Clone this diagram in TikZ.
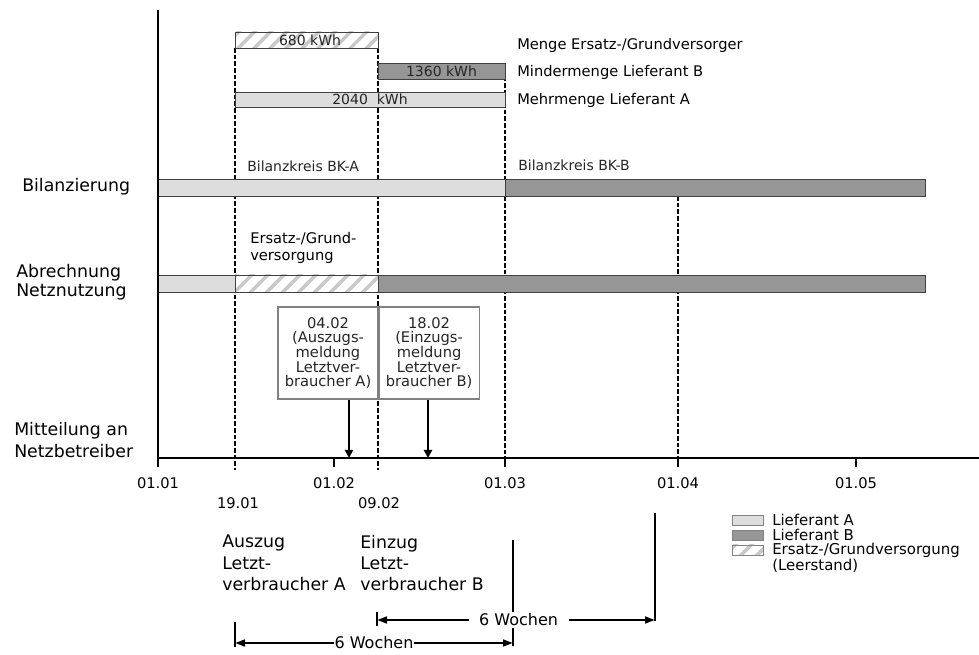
\documentclass[tikz,border=0pt]{standalone}
\usepackage{fontspec}
\setmainfont{DejaVu Sans}
\usepackage{tikz}
\usetikzlibrary{positioning, arrows.meta, patterns.meta}
\definecolor{liefA}{RGB}{221,221,221}
\definecolor{liefB}{RGB}{150,150,150}
\definecolor{hatchgray}{RGB}{200,200,200}
\definecolor{boxgray}{RGB}{130,130,130}

\begin{document}
\begin{tikzpicture}[
    x=0.75pt, y=-0.75pt,
    bar/.style={draw=black!75, line width=0.6pt},
    barA/.style={bar, fill=liefA},
    barB/.style={bar, fill=liefB},
    barE/.style={bar, preaction={fill=white},
                 pattern={Lines[angle=45, distance=8.5pt, line width=2.6pt]}, pattern color=hatchgray},
    stichtag/.style={line width=1.4pt, dash pattern=on 3.5pt off 1.5pt},
    achse/.style={line width=1.6pt},
    tick/.style={line width=1pt},
    meldung/.style={line width=1.6pt, -{Triangle[width=6pt, length=6pt]}},
    mass/.style={line width=1.8pt, {Triangle[width=5pt, length=7.5pt]}-{Triangle[width=5pt, length=7.5pt]}},
    hilfslinie/.style={line width=0.8pt},
    zeile/.style={font=\fontsize{13}{15.5}\selectfont, align=left, anchor=west, inner sep=0pt},
    klein/.style={font=\fontsize{10.5}{10.2}\selectfont, inner sep=0pt, text=black!85},
    mittel/.style={font=\fontsize{11}{13}\selectfont, align=left, anchor=west, inner sep=0pt},
    legtext/.style={font=\fontsize{11.2}{10.6}\selectfont, align=left, anchor=west, inner sep=0pt},
    datum/.style={font=\fontsize{11}{13}\selectfont, inner sep=0pt},
    ereignis/.style={font=\fontsize{13}{16}\selectfont, align=left, anchor=west, inner sep=0pt},
    notebox/.style={draw=boxgray, line width=0.8pt, fill=white, minimum width=75pt, minimum height=69pt,
                    align=center, inner sep=0pt, font=\fontsize{11}{10.2}\selectfont, text=black!85},
    legbox/.style={draw=boxgray, line width=0.6pt}
]
\useasboundingbox (0,0) rectangle (979,655);

% Stichtage
\draw[stichtag] (235,48) -- (235,470);
\draw[stichtag] (378,48) -- (378,470);
\draw[stichtag] (505,63) -- (505,458);
\draw[stichtag] (678,196) -- (678,458);

% Mengen
\draw[barE] (235,32) rectangle (378,48);
\draw[barB] (378,63) rectangle (505,79.5);
\draw[barA] (235,92) rectangle (505,107);
\node[klein] (m680)  at (310,40)  {680 kWh};
\node[klein] (m1360) at (441.5,71.5) {1360 kWh};
\node[klein] (m2040) at (370,99.5)  {2040~ kWh};
\node[mittel] (lErsatz) at (517,45)  {Menge Ersatz-/Grundversorger};
\node[mittel] (lMinder) at (517,72)  {Mindermenge Lieferant B};
\node[mittel] (lMehr)   at (517,100) {Mehrmenge Lieferant A};

% Bilanzierung
\draw[barA] (158,179) rectangle (505,196);
\draw[barB] (505,179) rectangle (925,196);
\node[klein, anchor=west] (bkA) at (247,166) {Bilanzkreis BK-A};
\node[klein, anchor=west] (bkB) at (518,165) {Bilanzkreis BK-B};
\node[zeile] (bil) at (22,187) {Bilanzierung};

% Abrechnung Netznutzung
\draw[barA] (158,275) rectangle (235,292);
\draw[barE] (235,275) rectangle (378,292);
\draw[barB] (378,275) rectangle (925,292);
\node[mittel] (ersatz) at (250,248) {Ersatz-/Grund-\\versorgung};
\node[zeile, font=\fontsize{13}{14.5}\selectfont] (abr) at (16,282.5) {Abrechnung\\Netznutzung};

% Mitteilung an Netzbetreiber
\node[zeile, font=\fontsize{13}{17}\selectfont] (mit) at (14,440) {Mitteilung an\\Netzbetreiber};
\node[notebox] (nA) at (328,353) {04.02\\(Auszugs-\\meldung\\Letztver-\\braucher A)};
\node[notebox, right=0pt of nA] (nB) {18.02\\(Einzugs-\\meldung\\Letztver-\\braucher B)};
\coordinate (tA) at (349,458);
\coordinate (tB) at (428,458);
\draw[meldung] (nA.south -| tA) -- (tA);
\draw[meldung] (nB.south -| tB) -- (tB);

% Zeitachse
\coordinate (oben) at (158,10);
\coordinate (null) at (158,458);
\coordinate (ende) at (979,458);
\draw[achse] (oben) -- (null) -- (ende);
\foreach \x/\d in {158/01.01, 334/01.02, 505/01.03, 678/01.04, 856/01.05} {
  \draw[tick] (\x,458) -- (\x,467);
  \node[datum] (d\x) at (\x,483) {\d};
}
\node[datum] (d1901) at (238,503) {19.01};
\node[datum] (d0902) at (379,503) {09.02};
\node[ereignis] (aus) at (222,563) {Auszug\\Letzt-\\verbraucher A};
\node[ereignis] (ein) at (360,563) {Einzug\\Letzt-\\verbraucher B};

% Fristen
\coordinate (f1o) at (513,540); \coordinate (f1u) at (513,646);
\coordinate (f2o) at (655,513); \coordinate (f2u) at (655,621);
\coordinate (f3o) at (377,612); \coordinate (f3u) at (377,626);
\coordinate (f4o) at (235,622); \coordinate (f4u) at (235,647);
\draw[hilfslinie] (f1o) -- (f1u);
\draw[hilfslinie] (f2o) -- (f2u);
\draw[hilfslinie] (f3o) -- (f3u);
\draw[hilfslinie] (f4o) -- (f4u);
\draw[mass] (f3o |- 0,620) -- node[fill=white, inner xsep=8pt, inner ysep=1pt, font=\fontsize{12}{14}\selectfont, xshift=2pt] (w1) {6 Wochen} (f2o |- 0,620);
\draw[mass] (f4o |- 0,643) -- node[fill=white, inner xsep=0.5pt, inner ysep=1pt, font=\fontsize{12}{14}\selectfont] (w2) {6 Wochen} (f1o |- 0,643);

% Legende
\draw[barA, legbox] (732,515) rectangle (763,525);
\draw[barB, legbox] (732,530) rectangle (763,540);
\draw[barE, legbox] (732,545) rectangle (763,555);
\node[legtext] (legA) at (772,520) {Lieferant A};
\node[legtext] (legB) at (772,535) {Lieferant B};
\node[legtext] (legE) at (772,557.5) {Ersatz-/Grundversorgung\\(Leerstand)};
\end{tikzpicture}
\end{document}
